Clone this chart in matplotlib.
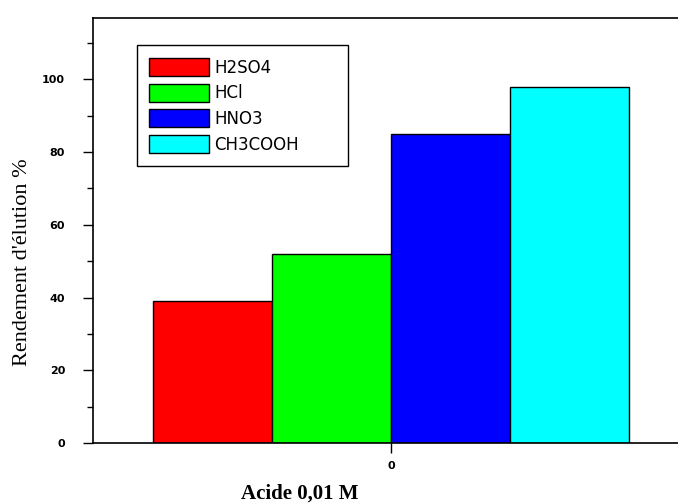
import numpy as np
import matplotlib
matplotlib.use("Agg")
import matplotlib.pyplot as plt
from matplotlib.ticker import MultipleLocator

# data
acids = ["H2SO4", "HCl", "HNO3", "CH3COOH"]
rendement = [39, 52, 85, 98]
colors = ["#ff0000", "#00ff00", "#0000ff", "#00ffff"]
group_labels = ["0"]

fig = plt.figure(figsize=(6.78, 5.04), dpi=100)
ax = fig.add_axes([0.137, 0.121, 0.863, 0.843])

width = 0.2
offsets = (np.arange(len(acids)) - (len(acids) - 1) / 2) * width
for off, val, col, lab in zip(offsets, rendement, colors, acids):
    ax.bar(0 + off, val, width=width, color=col, edgecolor="black",
           linewidth=1, label=lab)

ax.set_xlim(-0.501, 0.482)
ax.set_ylim(0, 116.8)
ax.set_xticks([0])
ax.set_xticklabels(group_labels, fontsize=8, fontweight="bold", family="DejaVu Sans")
ax.yaxis.set_major_locator(MultipleLocator(20))
ax.yaxis.set_minor_locator(MultipleLocator(10))
ax.tick_params(axis="y", which="major", direction="out", length=7, width=1,
               labelsize=8, pad=13)
ax.tick_params(axis="y", which="minor", direction="out", length=4, width=1)
ax.tick_params(axis="x", which="major", direction="out", length=7, width=1, pad=6)
for t in ax.get_yticklabels():
    t.set_fontweight("bold")

ax.spines["right"].set_visible(False)
for s in ("left", "bottom", "top"):
    ax.spines[s].set_linewidth(1.2)

ax.set_ylabel("Rendement d'élution %", family="Liberation Serif", fontsize=16)
ax.yaxis.set_label_coords(-0.104, 0.426)
ax.set_xlabel("Acide 0,01 M", family="Liberation Serif", fontsize=15,
              fontweight="bold")
ax.xaxis.set_label_coords((300 - 93) / 585, -0.095)

leg = ax.legend(loc="upper left", bbox_to_anchor=(0.075, 0.65, 0.361, 0.286),
                mode="expand", borderaxespad=0,
                fancybox=False, shadow=False, framealpha=1, edgecolor="black",
                prop={"family": "DejaVu Sans", "size": 12},
                handlelength=3.6, handleheight=1.3, labelspacing=0.42,
                handletextpad=0.3, borderpad=0.75)
leg.get_frame().set_linewidth(1)

fig.savefig("out.png", dpi=100)
